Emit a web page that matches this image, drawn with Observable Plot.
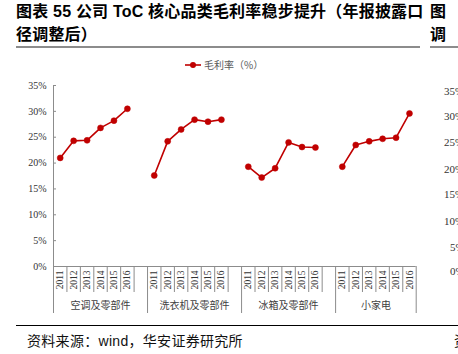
<!DOCTYPE html>
<html>
<head>
<meta charset="utf-8">
<script src="https://cdn.jsdelivr.net/npm/d3@7"></script>
<script src="https://cdn.jsdelivr.net/npm/@observablehq/plot@0.6"></script>
<style>
  body { margin:0; width:458px; height:354px; overflow:hidden; position:relative; background:#fff; font-family:"Liberation Sans","Noto Sans CJK SC",sans-serif; }
  .abs { position:absolute; white-space:nowrap; }
  #title { left:16px; top:0px; font-size:16px; font-weight:bold; line-height:23px; letter-spacing:0.2px; color:#000; }
  #title2 { left:430px; top:0px; font-size:16px; font-weight:bold; line-height:23px; color:#000; }
  .rule1 { top:46px; height:2px; background:#8c8c8c; }
  .rule2 { top:325px; height:1px; background:#000; }
  #source { left:27px; top:332px; font-size:14px; line-height:18px; letter-spacing:0.3px; color:#111; }
  #legend { left:184px; top:58px; font-size:10px; line-height:14px; color:#595959; font-family:"Noto Sans CJK SC",sans-serif; display:flex; align-items:center; }
  .rtick { left:444px; font-size:11px; font-family:"Liberation Serif",serif; color:#333; }
  #chart { position:absolute; left:0; top:50px; }
</style>
</head>
<body>
<div id="title" class="abs">图表 55 公司 ToC 核心品类毛利率稳步提升（年报披露口<br>径调整后）</div>
<div id="title2" class="abs">图<br>调</div>
<div class="abs rule1" style="left:16px;width:404px"></div>
<div class="abs rule1" style="left:430px;width:28px"></div>
<div id="chart"></div>
<div id="legend" class="abs"></div>
<div id="rightTicks"></div>
<div class="abs rule2" style="left:16px;width:442px"></div>
<div id="source" class="abs">资料来源：wind，华安证券研究所</div>
<div class="abs" style="left:454px;top:332px;font-size:14px;line-height:18px;color:#111">资</div>
<script>
// ---- data ----
const years = ["2011", "2012", "2013", "2014", "2015", "2016"];
const groups = ["空调及零部件", "洗衣机及零部件", "冰箱及零部件", "小家电"];
const acMargin = [21.0, 24.3, 24.4, 26.8, 28.2, 30.5];   // 空调及零部件
const wmMargin = [17.6, 24.2, 26.5, 28.4, 28.0, 28.4];   // 洗衣机及零部件
const frMargin = [19.3, 17.2, 19.0, 24.0, 23.1, 23.0];   // 冰箱及零部件
const saMargin = [19.3, 23.5, 24.2, 24.7, 24.9, 29.6];   // 小家电
const yTickValues = [0, 5, 10, 15, 20, 25, 30, 35];
const seriesName = "毛利率（%）";

const red = "#C00000";
const grey = "#8c8c8c";
const seriesByGroup = [acMargin, wmMargin, frMargin, saMargin];
const slotsPerGroup = years.length + 1; // each group is followed by one empty slot
const lastSlot = (groups.length - 1) * slotsPerGroup + years.length;

const rows = [];
groups.forEach((g, gi) => {
  years.forEach((yr, yi) => {
    rows.push({group: g, year: yr, slot: gi * slotsPerGroup + yi + 0.5, value: seriesByGroup[gi][yi] / 100});
  });
});
const groupSpans = groups.map((g, gi) => {
  const start = gi * slotsPerGroup;
  const end = Math.min(start + slotsPerGroup, lastSlot);
  return {group: g, start, end, mid: (start + end) / 2};
});
const boundaries = [0, ...groupSpans.map(d => d.end)];
const yearEdges = [];
groupSpans.forEach(s => { for (let k = 1; k <= years.length; k++) { const e = s.start + k; if (e < s.end) yearEdges.push(e); } });

const chart = Plot.plot({
  width: 458,
  height: 270,
  marginLeft: 53,
  marginRight: 42.3,
  marginTop: 35,
  marginBottom: 54,
  x: {domain: [0, lastSlot], axis: null},
  y: {domain: [0, 0.35], axis: null},
  style: {background: "transparent", overflow: "visible"},
  marks: [
    Plot.axisY(yTickValues.map(v => v / 100), {
      label: null, tickSize: 0, tickPadding: 7,
      tickFormat: d => Math.round(d * 100) + "%",
      fontSize: 10, fontFamily: "Liberation Serif, serif", fill: "#333"
    }),
    Plot.ruleY(yTickValues.map(v => v / 100), {x1: 0, x2: 0, insetRight: -3, stroke: grey}),
    Plot.ruleY([0], {stroke: grey}),
    Plot.ruleX([0], {y1: 0, y2: 0.35, stroke: grey}),
    Plot.ruleX(boundaries, {y1: 0, y2: 0, insetBottom: -47, stroke: grey}),
    Plot.ruleX(yearEdges, {y1: 0, y2: 0, insetBottom: -26, stroke: grey}),
    Plot.text(rows, {x: "slot", y: () => 0, text: "year", rotate: -90, textAnchor: "end", dy: 4,
      fontSize: 9.5, fontFamily: "Liberation Serif, serif", fill: "#333"}),
    Plot.text(groupSpans, {x: "mid", y: () => 0, text: "group", dy: 39,
      fontSize: 10, fontFamily: "Noto Sans CJK SC, sans-serif", fill: "#404040"}),
    Plot.line(rows, {x: "slot", y: "value", z: "group", stroke: red, strokeWidth: 1.6}),
    Plot.dot(rows, {x: "slot", y: "value", r: 3, fill: red, stroke: red, strokeWidth: 0.5})
  ]
});
document.getElementById("chart").appendChild(chart);

// legend
document.getElementById("legend").innerHTML =
  `<svg width="18" height="14" style="margin-right:2px"><line x1="1" y1="7" x2="17" y2="7" stroke="${red}" stroke-width="1.6"/><circle cx="9" cy="7" r="3" fill="${red}"/></svg><span>${seriesName}</span>`;

// right-hand neighbouring chart's axis labels (cropped in the reference)
const rightTops = [92, 117, 143, 170, 195, 222, 248, 272];
const rt = document.getElementById("rightTicks");
yTickValues.slice().reverse().forEach((v, i) => {
  const d = document.createElement("div");
  d.className = "abs rtick";
  d.style.top = (rightTops[i] - 7) + "px";
  d.style.left = (v < 10 ? 450 : 444) + "px";
  d.textContent = v + "%";
  rt.appendChild(d);
});
</script>
</body>
</html>
